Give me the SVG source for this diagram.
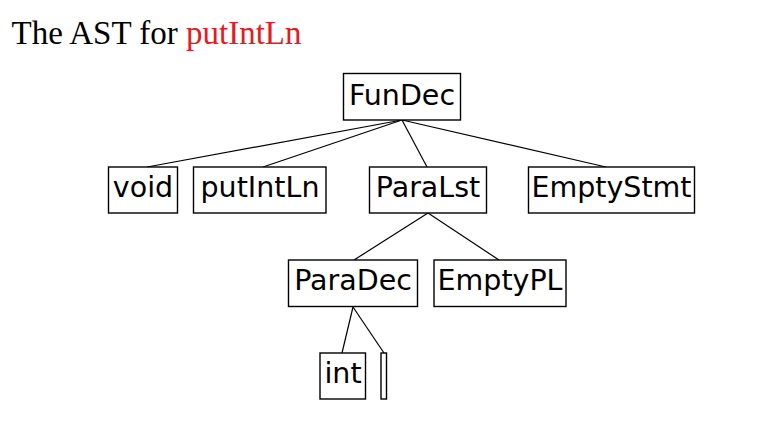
<svg xmlns="http://www.w3.org/2000/svg" width="765" height="434" viewBox="0 0 765 434">
<style>
.box{fill:#fff;stroke:#000;stroke-width:1.4}
.lbl{font-family:"DejaVu Sans",sans-serif;font-size:28.5px;fill:#000;text-anchor:middle}
.edge{stroke:#000;stroke-width:1.2;fill:none}
.title{font-family:"Liberation Serif",serif;font-size:33px;fill:#000}
</style>
<rect width="765" height="434" fill="#fff"/>
<text class="title" x="11.5" y="43.5">The AST for <tspan fill="#e41b23">putIntLn</tspan></text>
<g id="connectors">
<line class="edge" x1="402" y1="120" x2="147" y2="167"/>
<line class="edge" x1="402" y1="120" x2="263" y2="167"/>
<line class="edge" x1="402" y1="120" x2="427" y2="167"/>
<line class="edge" x1="402" y1="120" x2="606" y2="167"/>
<line class="edge" x1="428" y1="213" x2="354" y2="260"/>
<line class="edge" x1="428" y1="213" x2="499" y2="260"/>
<line class="edge" x1="353" y1="307" x2="342" y2="353"/>
<line class="edge" x1="353" y1="307" x2="384" y2="353"/>
</g>
<g id="FunDec"><rect class="box" x="343.5" y="73.5" width="117" height="46.5"/><text class="lbl" x="402" y="105">FunDec</text></g>
<g id="void"><rect class="box" x="108.5" y="167" width="69" height="46"/><text class="lbl" x="143" y="197">void</text></g>
<g id="putIntLn"><rect class="box" x="193.5" y="167" width="132.5" height="46"/><text class="lbl" x="260" y="197">putIntLn</text></g>
<g id="ParaLst"><rect class="box" x="369.5" y="167" width="117" height="46"/><text class="lbl" x="428" y="197">ParaLst</text></g>
<g id="EmptyStmt"><rect class="box" x="528.5" y="167" width="166" height="46"/><text class="lbl" x="611.5" y="197">EmptyStmt</text></g>
<g id="ParaDec"><rect class="box" x="288.5" y="260" width="129" height="46.5"/><text class="lbl" x="353" y="290">ParaDec</text></g>
<g id="EmptyPL"><rect class="box" x="434" y="260" width="132" height="46.5"/><text class="lbl" x="500" y="290">EmptyPL</text></g>
<g id="int"><rect class="box" x="320" y="353" width="45.5" height="46"/><text class="lbl" x="343" y="383">int</text></g>
<g id="empty"><rect class="box" x="381" y="353" width="5.5" height="46"/></g>
</svg>
